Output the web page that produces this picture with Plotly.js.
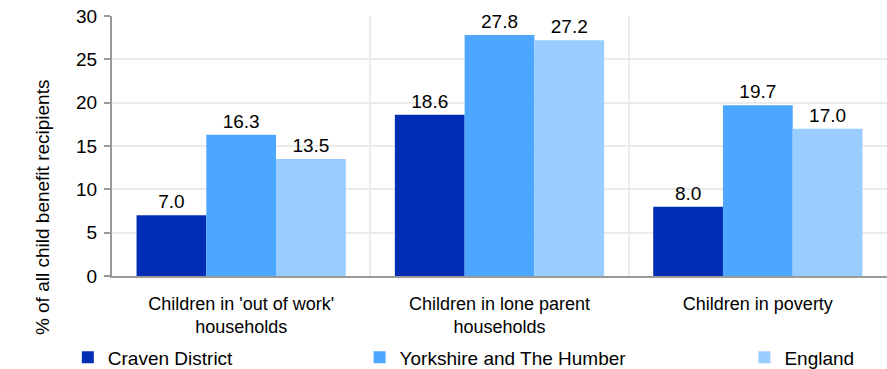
<!DOCTYPE html>
<html><head><meta charset="utf-8">
<script src="https://cdn.plot.ly/plotly-3.0.1.min.js"></script>
<style>html,body{margin:0;padding:0;background:#fff}#chart{width:887px;height:369px}</style>
</head><body><div id="chart"></div>
<script>
const categories = ["Children in 'out of work'<br>households", "Children in lone parent<br>households", "Children in poverty"];
const seriesNames = ["Craven District", "Yorkshire and The Humber", "England"];
const craven = [7.0, 18.6, 8.0];
const yorkshire = [16.3, 27.8, 19.7];
const england = [13.5, 27.2, 17.0];
const colors = ["#002db3", "#4da6ff", "#99ccff"];
const values = [craven, yorkshire, england];
const legendIds = ["legend", "legend2", "legend3"];
const yTitle = "% of all child benefit recipients";
const font = "Liberation Sans, Arial, sans-serif";

const traces = values.map((v, i) => ({
  type: "bar",
  name: seriesNames[i],
  x: categories,
  y: v,
  marker: {color: colors[i]},
  text: v.map(d => d.toFixed(1)),
  textposition: "outside",
  cliponaxis: false,
  textfont: {family: font, size: 19, color: "#000"},
  legend: legendIds[i],
  hoverinfo: "none"
}));

const legendBase = {orientation: "h", yanchor: "middle", y: -0.313, xref: "paper", xanchor: "left",
  font: {family: font, size: 19, color: "#000"}, bgcolor: "rgba(0,0,0,0)", itemwidth: 30};

const layout = {
  width: 887, height: 369,
  margin: {l: 112, r: 0, t: 16, b: 93, autoexpand: false},
  paper_bgcolor: "#fff", plot_bgcolor: "#fff",
  barmode: "group", bargap: 0.19, bargroupgap: 0,
  font: {family: font, size: 19, color: "#000"},
  showlegend: true,
  legend: Object.assign({}, legendBase, {x: -0.057}),
  legend2: Object.assign({}, legendBase, {x: 0.3195}),
  legend3: Object.assign({}, legendBase, {x: 0.816}),
  xaxis: {
    type: "category", tickson: "boundaries", ticks: "", showgrid: true, gridcolor: "#ebebeb", gridwidth: 2,
    showline: true, linecolor: "#999", linewidth: 2, tickfont: {family: font, size: 18, color: "#000"},
    ticklabelstandoff: 10, zeroline: false, automargin: false
  },
  yaxis: {
    range: [0, 30], dtick: 5, ticks: "outside", ticklen: 6, tickcolor: "#999", tickwidth: 2,
    showline: true, linecolor: "#999", linewidth: 2, showgrid: true, gridcolor: "#ebebeb", gridwidth: 2,
    zeroline: false, tickfont: {family: font, size: 19, color: "#000"}, ticklabelstandoff: 3, automargin: false
  },
  annotations: [{
    text: yTitle, xref: "paper", yref: "paper", x: -0.0903, y: 0.265, xanchor: "center", yanchor: "middle",
    textangle: -90, showarrow: false, font: {family: font, size: 19, color: "#000"}
  }]
};
Plotly.newPlot("chart", traces, layout, {staticPlot: true, displayModeBar: false});
</script></body></html>
